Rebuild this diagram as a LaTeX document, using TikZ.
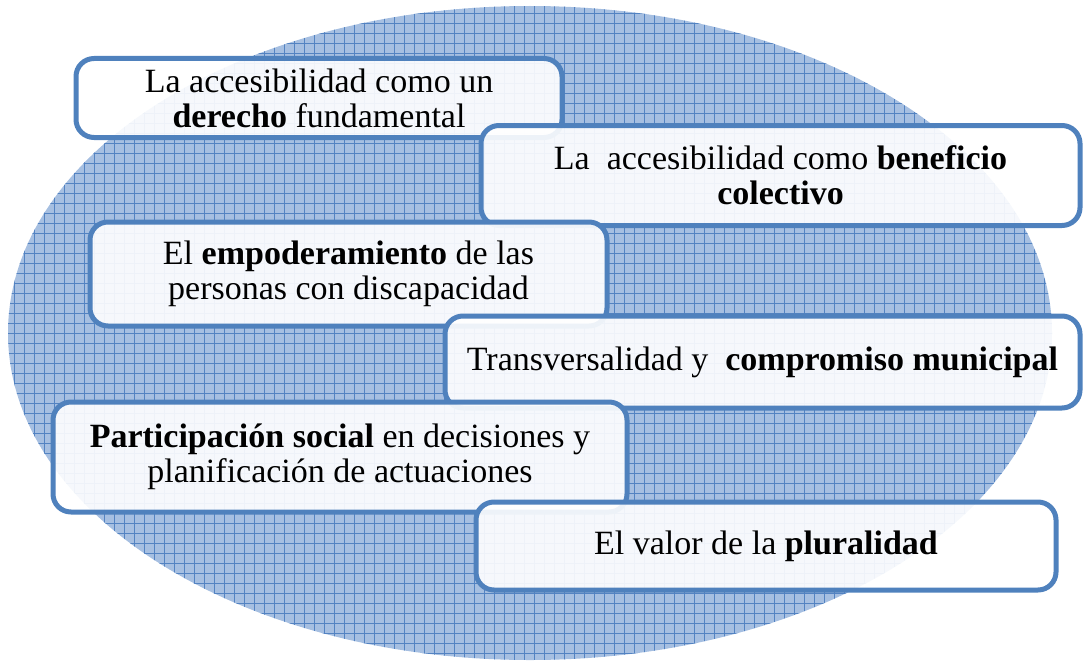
\documentclass[tikz,border=0pt]{standalone}
\usepackage{fontspec}
\setmainfont{Liberation Serif}
\definecolor{ellbg}{HTML}{A6BFE1}
\definecolor{gridc}{HTML}{5383C2}
\definecolor{boxline}{HTML}{4F81BD}
\tikzset{
  infobox/.style={draw=boxline, line width=5pt, rounded corners=18pt,
    fill=white, fill opacity=0.9, text opacity=1, inner sep=0pt,
    align=center, text=black,
    font=\fontsize{34}{35}\selectfont},
}
\begin{document}
\begin{tikzpicture}[x=1pt,y=-1pt]
\useasboundingbox (0,0) rectangle (1086,661);
% background ellipse with grid pattern
\fill[ellbg] (530,333) ellipse [x radius=522, y radius=327];
\begin{scope}
  \clip (530,333) ellipse [x radius=522, y radius=327];
  \foreach \x in {4,14,...,1084} \draw[gridc, line width=0.9pt] (\x,0) -- (\x,661);
  \foreach \y in {3,13,...,663} \draw[gridc, line width=0.9pt] (0,\y) -- (1086,\y);
\end{scope}
% boxes
\node[infobox, minimum width=486, minimum height=79] (b1) at (319,98)
  {La accesibilidad como un\\\textbf{derecho} fundamental};
\node[infobox, minimum width=599, minimum height=100] (b2) at (780.5,175.5)
  {La~ accesibilidad como \textbf{beneficio}\\\textbf{colectivo}};
\node[infobox, minimum width=517, minimum height=104] (b3) at (348.5,274)
  {El \textbf{empoderamiento} de las\\personas con discapacidad};
\node[infobox, minimum width=635, minimum height=92] (b4) at (762.5,362)
  {Transversalidad y~ \textbf{compromiso municipal}};
\node[infobox, minimum width=574, minimum height=110] (b5) at (340,457)
  {\textbf{Participación social} en decisiones y\\planificación de actuaciones};
\node[infobox, minimum width=580, minimum height=88] (b6) at (766,546)
  {El valor de la \textbf{pluralidad}};
\end{tikzpicture}
\end{document}
